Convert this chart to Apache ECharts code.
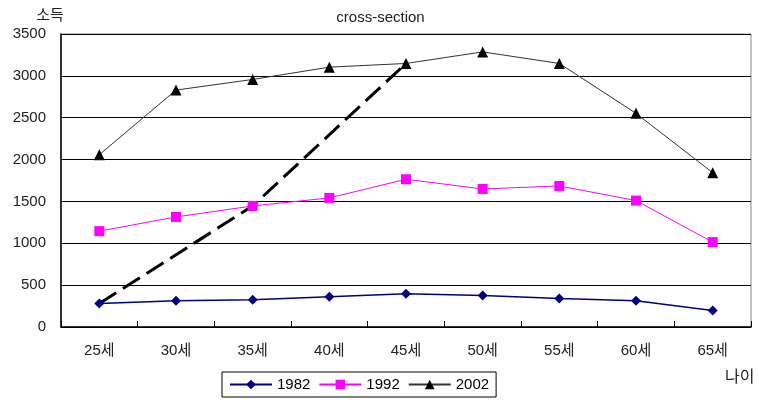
<!DOCTYPE html>
<html><head><meta charset="utf-8">
<script src="https://cdn.jsdelivr.net/npm/echarts@6/dist/echarts.min.js"></script>
<style>html,body{margin:0;padding:0;background:#fff}#c{width:761px;height:405px}</style>
</head><body><div id="c"></div>
<script>
const categories = ['25세','30세','35세','40세','45세','50세','55세','60세','65세'];
const yTicks = [0,500,1000,1500,2000,2500,3000,3500];
const s1982 = [281, 314, 326, 361, 397, 377, 341, 314, 198];
const s1992 = [1145, 1315, 1446, 1542, 1765, 1649, 1685, 1510, 1014];
const s2002 = [2058, 2830, 2957, 3104, 3148, 3286, 3148, 2552, 1844];
// cohort path: 1982 at 25세 -> 1992 at 35세 -> 2002 at 45세
const cohort = [s1982[0], null, s1992[2], null, s2002[4], null, null, null, null];

const FONT = '"Liberation Sans", Arial, "Noto Sans CJK KR", sans-serif';
const chart = echarts.init(document.getElementById('c'), null, {renderer:'canvas'});
chart.setOption({
  animation: false,
  backgroundColor: '#fff',
  title: {
    text: 'cross-section', left: 'center', top: 5,
    textStyle: {fontFamily: FONT, fontSize: 15, fontWeight: 'normal', color: '#222'}
  },
  grid: {left: 61, right: 10, top: 34, bottom: 78, show: true, borderColor: '#888', borderWidth: 1},
  legend: {
    data: ['1982','1992','2002'],
    left: 222, top: 372,
    borderColor: '#000', borderWidth: 1, padding: [5, 7],
    itemWidth: 42, itemHeight: 12, itemGap: 8,
    textStyle: {fontFamily: FONT, fontSize: 15, color: '#000'}
  },
  graphic: [{
    type: 'text', left: 725, top: 368,
    style: {text: '나이', font: '16px "Noto Sans CJK KR", sans-serif', fill: '#222'}
  }],
  xAxis: {
    type: 'category', data: categories, boundaryGap: true,
    axisLine: {lineStyle: {color: '#000', width: 1.5}},
    axisTick: {show: true, inside: true, length: 6, lineStyle: {color: '#000'}},
    axisLabel: {fontFamily: FONT, fontSize: 15, color: '#222', margin: 16},
    splitLine: {show: false}
  },
  yAxis: {
    type: 'value', min: yTicks[0], max: yTicks[yTicks.length-1], interval: 500,
    name: '소득', nameLocation: 'end', nameGap: 12,
    nameTextStyle: {fontFamily: '"Noto Sans CJK KR", sans-serif', fontSize: 15, color: '#222', align: 'center', padding: [0, 22, 0, 0]},
    axisLine: {show: true, lineStyle: {color: '#000', width: 1.5}},
    axisTick: {show: false},
    axisLabel: {fontFamily: FONT, fontSize: 15, color: '#222', margin: 15, formatter: v => String(v)},
    splitLine: {show: true, lineStyle: {color: '#000', width: 1}}
  },
  series: [
    {name: '1982', type: 'line', data: s1982, symbol: 'diamond', symbolSize: 10,
     lineStyle: {color: '#000080', width: 1.5}, itemStyle: {color: '#000080'}, z: 3},
    {name: '1992', type: 'line', data: s1992, symbol: 'rect', symbolSize: 10,
     lineStyle: {color: '#ff00ff', width: 1}, itemStyle: {color: '#ff00ff'}, z: 3},
    {name: '2002', type: 'line', data: s2002, symbol: 'triangle', symbolSize: 11,
     lineStyle: {color: '#333', width: 1}, itemStyle: {color: '#000'}, z: 3},
    {name: 'cohort', type: 'line', data: cohort, connectNulls: true, showSymbol: false, symbol: 'none',
     lineStyle: {color: '#000', width: 3, type: [20, 8]}, z: 2}
  ]
});
</script></body></html>
